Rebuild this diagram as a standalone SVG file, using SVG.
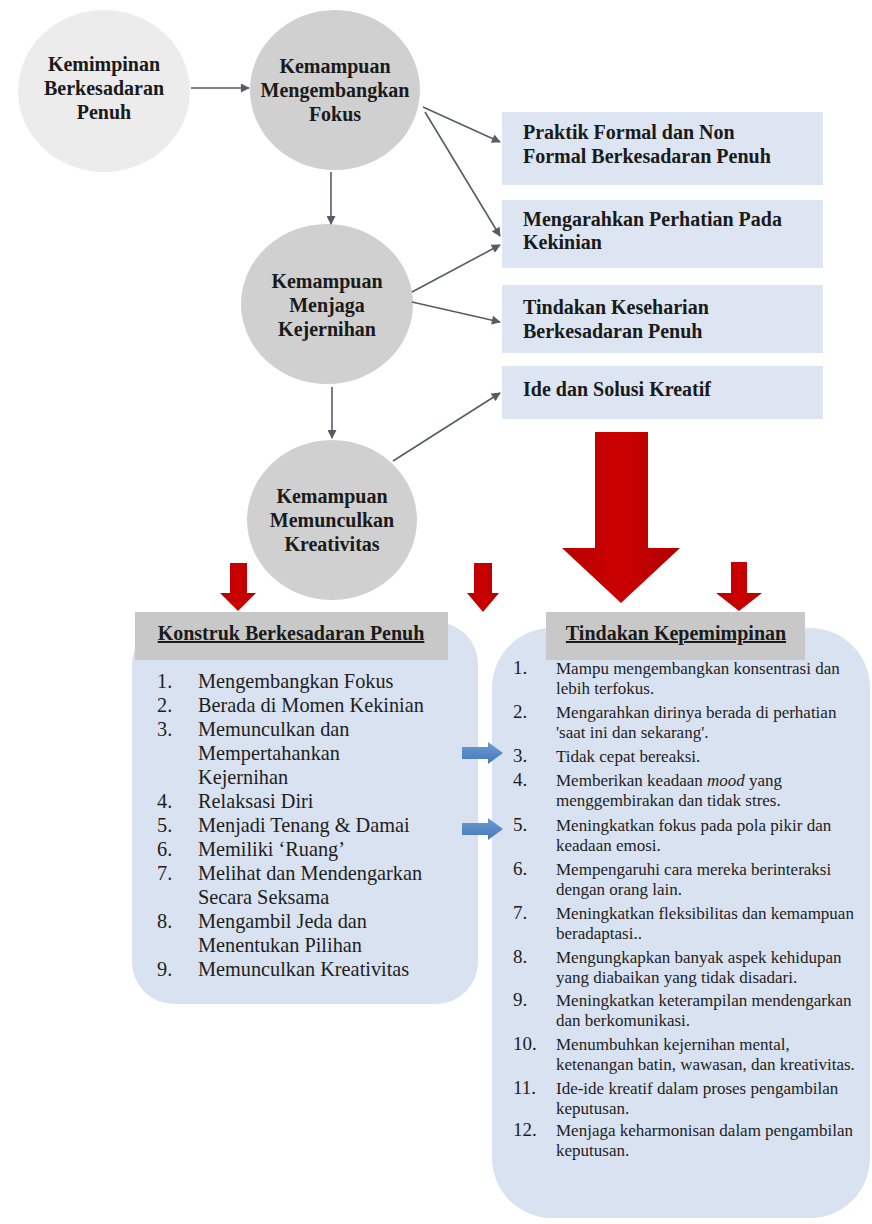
<svg xmlns="http://www.w3.org/2000/svg" width="872" height="1224" viewBox="0 0 872 1224">
  <defs>
    <marker id="head" viewBox="0 0 10 10" refX="9" refY="5" markerWidth="10" markerHeight="9" markerUnits="userSpaceOnUse" orient="auto">
      <path d="M0,0 L10,5 L0,10 Z" fill="#565c66"/>
    </marker>
    <linearGradient id="redFill" x1="0" y1="0" x2="1" y2="0">
      <stop offset="0" stop-color="#b80000"/>
      <stop offset="0.5" stop-color="#cc0000"/>
      <stop offset="1" stop-color="#b00000"/>
    </linearGradient>
    <linearGradient id="blueFill" x1="0" y1="0" x2="0" y2="1">
      <stop offset="0" stop-color="#6a9cd6"/>
      <stop offset="1" stop-color="#4678b8"/>
    </linearGradient>
  </defs>
  <style>
    .circ-title { font-family: "Liberation Serif", "Times New Roman", serif; font-weight: bold; font-size: 20px; fill: #1a1a1a; text-anchor: middle; }
    .box-title { font-family: "Liberation Serif", "Times New Roman", serif; font-weight: bold; font-size: 20px; fill: #1a1a1a; }
    .head-title { font-family: "Liberation Serif", "Times New Roman", serif; font-weight: bold; font-size: 20px; fill: #1a1a1a; text-anchor: middle; text-decoration: underline; }
    .list-l { font-family: "Liberation Serif", "Times New Roman", serif; font-size: 20.3px; fill: #1e1e1e; }
    .list-r { font-family: "Liberation Serif", "Times New Roman", serif; font-size: 17px; fill: #1e1e1e; }
    .num-r { font-family: "Liberation Serif", "Times New Roman", serif; font-size: 19px; fill: #1e1e1e; }
    .conn { stroke: #565c66; stroke-width: 1.6; fill: none; marker-end: url(#head); }
    .red { fill: url(#redFill); }
    .blue { fill: url(#blueFill); }
    .fbox { fill: #dce5f1; }
    .panel { fill: #d9e2f0; }
    .hbar { fill: #c8c8c8; }
  </style>

  <rect width="872" height="1224" fill="#ffffff"/>

  <!-- panels behind everything -->
  <g id="panel-konstruk">
    <rect class="panel" x="132" y="622" width="346" height="382" rx="42"/>
    <rect class="hbar" x="135" y="612" width="313" height="48"/>
    <text class="head-title" x="291" y="640">Konstruk Berkesadaran Penuh</text>
    <g class="list-l">
      <text x="157" y="688">1.</text><text x="198" y="688">Mengembangkan Fokus</text>
      <text x="157" y="712">2.</text><text x="198" y="712">Berada di Momen Kekinian</text>
      <text x="157" y="736">3.</text><text x="198" y="736">Memunculkan dan</text>
      <text x="198" y="760">Mempertahankan</text>
      <text x="198" y="784">Kejernihan</text>
      <text x="157" y="808">4.</text><text x="198" y="808">Relaksasi Diri</text>
      <text x="157" y="832">5.</text><text x="198" y="832">Menjadi Tenang &amp; Damai</text>
      <text x="157" y="856">6.</text><text x="198" y="856">Memiliki ‘Ruang’</text>
      <text x="157" y="880">7.</text><text x="198" y="880">Melihat dan Mendengarkan</text>
      <text x="198" y="904">Secara Seksama</text>
      <text x="157" y="928">8.</text><text x="198" y="928">Mengambil Jeda dan</text>
      <text x="198" y="952">Menentukan Pilihan</text>
      <text x="157" y="976">9.</text><text x="198" y="976">Memunculkan Kreativitas</text>
    </g>
  </g>

  <g id="panel-tindakan">
    <rect class="panel" x="492" y="628" width="378" height="590" rx="60"/>
    <rect class="hbar" x="546" y="612" width="259" height="48"/>
    <text class="head-title" x="676" y="640">Tindakan Kepemimpinan</text>
    <g class="num-r">
      <text x="513" y="674">1.</text>
      <text x="513" y="718">2.</text>
      <text x="513" y="762">3.</text>
      <text x="513" y="786">4.</text>
      <text x="513" y="831">5.</text>
      <text x="513" y="875">6.</text>
      <text x="513" y="919">7.</text>
      <text x="513" y="963">8.</text>
      <text x="513" y="1006">9.</text>
      <text x="513" y="1050">10.</text>
      <text x="513" y="1094">11.</text>
      <text x="513" y="1136">12.</text>
    </g>
    <g class="list-r">
      <text x="556" y="674">Mampu mengembangkan konsentrasi dan</text>
      <text x="556" y="694">lebih terfokus.</text>
      <text x="556" y="718">Mengarahkan dirinya berada di perhatian</text>
      <text x="556" y="738">'saat ini dan sekarang'.</text>
      <text x="556" y="762">Tidak cepat bereaksi.</text>
      <text x="556" y="786">Memberikan keadaan <tspan font-style="italic">mood</tspan> yang</text>
      <text x="556" y="806">menggembirakan dan tidak stres.</text>
      <text x="556" y="831">Meningkatkan fokus pada pola pikir dan</text>
      <text x="556" y="851">keadaan emosi.</text>
      <text x="556" y="875">Mempengaruhi cara mereka berinteraksi</text>
      <text x="556" y="895">dengan orang lain.</text>
      <text x="556" y="919">Meningkatkan fleksibilitas dan kemampuan</text>
      <text x="556" y="939">beradaptasi..</text>
      <text x="556" y="963">Mengungkapkan banyak aspek kehidupan</text>
      <text x="556" y="983">yang diabaikan yang tidak disadari.</text>
      <text x="556" y="1006">Meningkatkan keterampilan mendengarkan</text>
      <text x="556" y="1026">dan berkomunikasi.</text>
      <text x="556" y="1050">Menumbuhkan kejernihan mental,</text>
      <text x="556" y="1070">ketenangan batin, wawasan, dan kreativitas.</text>
      <text x="556" y="1094">Ide-ide kreatif dalam proses pengambilan</text>
      <text x="556" y="1114">keputusan.</text>
      <text x="556" y="1136">Menjaga keharmonisan dalam pengambilan</text>
      <text x="556" y="1156">keputusan.</text>
    </g>
  </g>

  <!-- circle nodes -->
  <g id="node-kepemimpinan">
    <ellipse cx="104" cy="91" rx="86" ry="81" fill="#ececec"/>
    <text class="circ-title" x="104" y="71">Kemimpinan</text>
    <text class="circ-title" x="104" y="95">Berkesadaran</text>
    <text class="circ-title" x="104" y="119">Penuh</text>
  </g>
  <g id="node-fokus">
    <ellipse cx="335" cy="90" rx="85" ry="80" fill="#d0d0d0"/>
    <text class="circ-title" x="335" y="73">Kemampuan</text>
    <text class="circ-title" x="335" y="97">Mengembangkan</text>
    <text class="circ-title" x="335" y="121">Fokus</text>
  </g>
  <g id="node-kejernihan">
    <ellipse cx="327" cy="304" rx="86" ry="80" fill="#d0d0d0"/>
    <text class="circ-title" x="327" y="288">Kemampuan</text>
    <text class="circ-title" x="327" y="312">Menjaga</text>
    <text class="circ-title" x="327" y="336">Kejernihan</text>
  </g>
  <g id="node-kreativitas">
    <ellipse cx="332" cy="520" rx="85" ry="80" fill="#d0d0d0"/>
    <text class="circ-title" x="332" y="503">Kemampuan</text>
    <text class="circ-title" x="332" y="527">Memunculkan</text>
    <text class="circ-title" x="332" y="551">Kreativitas</text>
  </g>

  <!-- outcome boxes -->
  <g id="box-praktik">
    <rect class="fbox" x="502" y="112" width="321" height="73"/>
    <text class="box-title" x="523" y="139">Praktik Formal dan Non</text>
    <text class="box-title" x="523" y="163">Formal Berkesadaran Penuh</text>
  </g>
  <g id="box-kekinian">
    <rect class="fbox" x="502" y="200" width="321" height="68"/>
    <text class="box-title" x="523" y="226">Mengarahkan Perhatian Pada</text>
    <text class="box-title" x="523" y="249">Kekinian</text>
  </g>
  <g id="box-keseharian">
    <rect class="fbox" x="502" y="285" width="321" height="68"/>
    <text class="box-title" x="523" y="314">Tindakan Keseharian</text>
    <text class="box-title" x="523" y="338">Berkesadaran Penuh</text>
  </g>
  <g id="box-ide">
    <rect class="fbox" x="502" y="366" width="321" height="53"/>
    <text class="box-title" x="523" y="396">Ide dan Solusi Kreatif</text>
  </g>

  <!-- connectors -->
  <g id="connectors">
    <line class="conn" x1="191" y1="88" x2="249" y2="88"/>
    <line class="conn" x1="331" y1="172" x2="331" y2="224"/>
    <line class="conn" x1="332" y1="387" x2="332" y2="438"/>
    <line class="conn" x1="423" y1="107" x2="500" y2="142"/>
    <line class="conn" x1="425" y1="112" x2="500" y2="236"/>
    <line class="conn" x1="412" y1="292" x2="500" y2="245"/>
    <line class="conn" x1="412" y1="302" x2="500" y2="322"/>
    <line class="conn" x1="393" y1="461" x2="500" y2="393"/>
  </g>

  <!-- red block arrows -->
  <g id="red-arrows">
    <polygon class="red" points="595,432 648,432 648,548 680,548 621,603 562,548 595,548"/>
    <polygon class="red" points="731,562 747,562 747,593 762,593 739,611 716,593 731,593"/>
    <polygon class="red" points="474,563 492,563 492,593 499,593 483,612 467,593 474,593"/>
    <polygon class="red" points="230,563 247,563 247,593 256,593 238,611 220,593 230,593"/>
  </g>

  <!-- blue pointer arrows -->
  <g id="blue-arrows">
    <polygon class="blue" points="462,747 488,747 488,742 503,753 488,764 488,759 462,759"/>
    <polygon class="blue" points="462,823 488,823 488,818 503,829 488,840 488,835 462,835"/>
  </g>
</svg>
